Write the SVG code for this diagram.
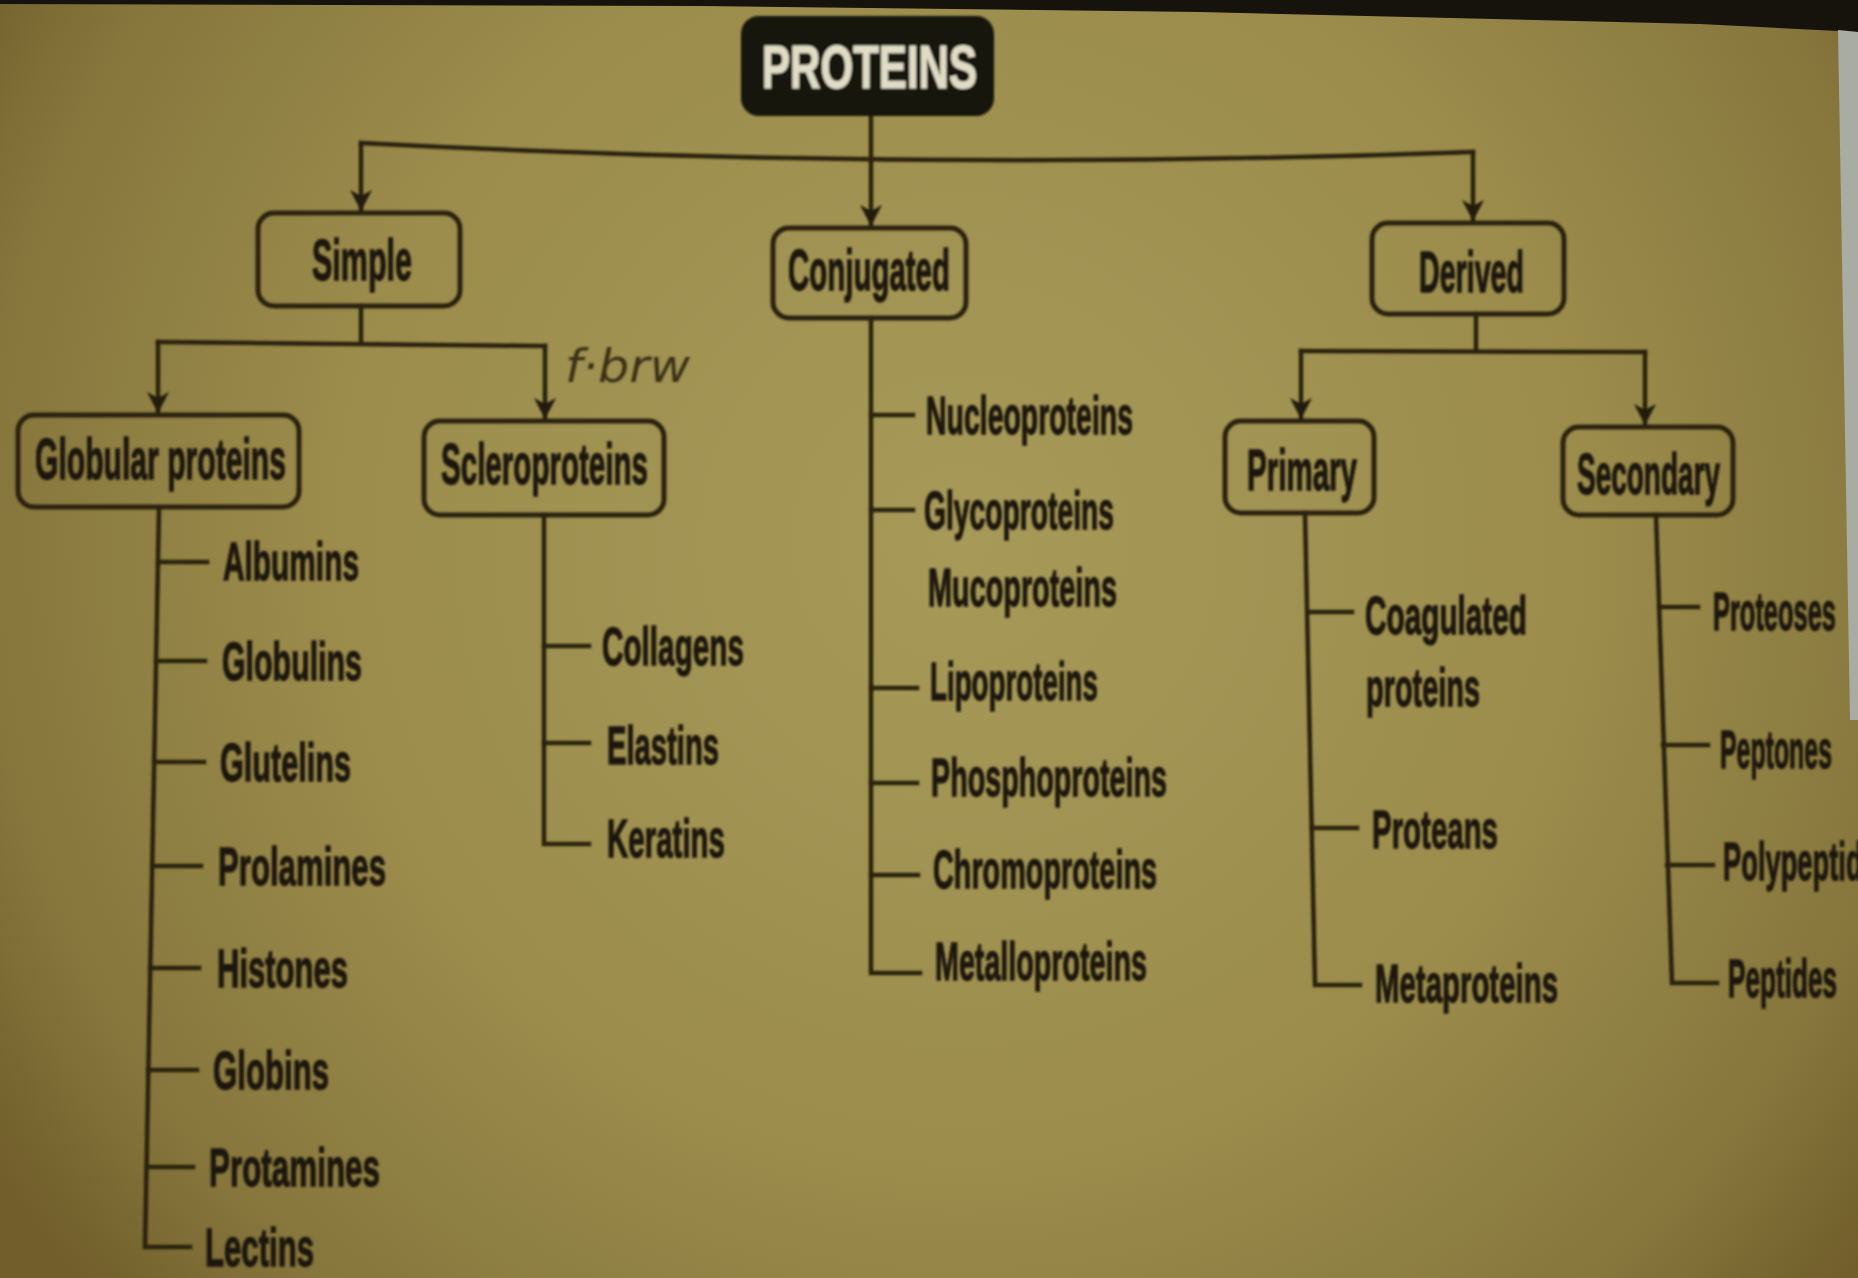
<svg xmlns="http://www.w3.org/2000/svg" width="1858" height="1278" viewBox="0 0 1858 1278">
<defs>
<radialGradient id="bg" cx="960" cy="540" r="1150" gradientUnits="userSpaceOnUse">
<stop offset="0" stop-color="#a79a59"/>
<stop offset="0.55" stop-color="#9b8c4c"/>
<stop offset="0.85" stop-color="#86763c"/>
<stop offset="1" stop-color="#715e2b"/>
</radialGradient>
<filter id="soft" x="-5%" y="-5%" width="110%" height="110%">
<feGaussianBlur stdDeviation="1.1"/>
</filter>
<marker id="ah" viewBox="0 -12 22 24" refX="21" refY="0" markerWidth="22" markerHeight="24" markerUnits="userSpaceOnUse" orient="auto">
<path d="M0,-11 L21,0 L0,11 L6,0 z" fill="#241b0b"/>
</marker>
<style>
.ln{fill:none;stroke:#2a2010;stroke-width:4.5;stroke-linecap:square;stroke-linejoin:miter}
.box{fill:none;stroke:#2a2010;stroke-width:5}
.t{font-family:"Liberation Sans",Arial,sans-serif;font-weight:bold;fill:#1e170a;stroke:#1e170a;stroke-width:1.3}
.bt{font-size:58px}
.lt{font-size:54px}
.hw{font-family:"DejaVu Sans",sans-serif;font-style:italic;font-weight:normal;fill:#3b3116;font-size:46px}
</style>
</defs>
<rect x="0" y="0" width="1858" height="1278" fill="url(#bg)"/>
<polygon points="0,0 1858,0 1858,32 1700,24 1200,12 700,6 0,4" fill="#16130c"/>
<polygon points="1838,30 1858,32 1858,720 1850,720" fill="#a9aca2"/>
<g filter="url(#soft)">
<g id="connectors">
<path class="ln" d="M871,116 V226" marker-end="url(#ah)"/>
<path class="ln" d="M361,143 Q917,172 1473,152"/>
<path class="ln" d="M361,143 V211" marker-end="url(#ah)"/>
<path class="ln" d="M1473,152 V221" marker-end="url(#ah)"/>
<path class="ln" d="M361,306 V343"/>
<path class="ln" d="M158,342 L545,346"/>
<path class="ln" d="M158,342 V413" marker-end="url(#ah)"/>
<path class="ln" d="M545,346 V419" marker-end="url(#ah)"/>
<path class="ln" d="M1476,314 V351"/>
<path class="ln" d="M1301,351 L1645,352"/>
<path class="ln" d="M1301,351 V419" marker-end="url(#ah)"/>
<path class="ln" d="M1645,352 V425" marker-end="url(#ah)"/>
<path class="ln" d="M159,507 L145,1247 L190,1247"/>
<path class="ln" d="M158,562 H207 M156,661 H205 M154,762 H204 M152,866 H201 M150,968 H199 M148,1070 H197 M147,1167 H193"/>
<path class="ln" d="M544,515 V844 H589"/>
<path class="ln" d="M544,646 H589 M544,743 H589"/>
<path class="ln" d="M871,318 V973 H920"/>
<path class="ln" d="M871,415 H913 M871,510 H913 M871,688 H917 M871,783 H917 M871,875 H918"/>
<path class="ln" d="M1305,513 L1315,985 H1360"/>
<path class="ln" d="M1308,612 H1352 M1312,828 H1357"/>
<path class="ln" d="M1656,515 L1672,983 H1717"/>
<path class="ln" d="M1659,607 H1698 M1663,745 H1708 M1667,865 H1713"/>
</g>
<g id="proteins">
<rect x="741" y="16" width="253" height="100" rx="18" fill="#14130f"/>
<text x="762" y="88" class="t" style="font-size:62px;fill:#e0dcc6;stroke:#e0dcc6;stroke-width:1" textLength="215" lengthAdjust="spacingAndGlyphs">PROTEINS</text>
</g>
<g id="simple">
<rect class="box" x="258" y="213" width="202" height="93" rx="16"/>
<text x="312" y="280" class="t bt" textLength="100" lengthAdjust="spacingAndGlyphs">Simple</text>
</g>
<g id="conjugated">
<rect class="box" x="773" y="228" width="193" height="90" rx="16"/>
<text x="788" y="290" class="t bt" textLength="162" lengthAdjust="spacingAndGlyphs">Conjugated</text>
</g>
<g id="derived">
<rect class="box" x="1372" y="223" width="192" height="91" rx="16"/>
<text x="1419" y="292" class="t bt" textLength="105" lengthAdjust="spacingAndGlyphs">Derived</text>
</g>
<g id="globular">
<rect class="box" x="18" y="415" width="281" height="92" rx="16"/>
<text x="35" y="479" class="t bt" textLength="251" lengthAdjust="spacingAndGlyphs">Globular proteins</text>
</g>
<g id="sclero">
<rect class="box" x="424" y="421" width="240" height="94" rx="16"/>
<text x="441" y="484" class="t bt" textLength="207" lengthAdjust="spacingAndGlyphs">Scleroproteins</text>
</g>
<g id="annotation">
<text x="565" y="382" class="hw" textLength="125" lengthAdjust="spacingAndGlyphs">f·brw</text>
</g>
<g id="primary">
<rect class="box" x="1225" y="421" width="149" height="92" rx="16"/>
<text x="1247" y="490" class="t bt" textLength="110" lengthAdjust="spacingAndGlyphs">Primary</text>
</g>
<g id="secondary">
<rect class="box" x="1563" y="427" width="170" height="88" rx="16"/>
<text x="1577" y="494" class="t bt" textLength="143" lengthAdjust="spacingAndGlyphs">Secondary</text>
</g>
<g id="albumins"><text x="223" y="580" class="t lt" textLength="136" lengthAdjust="spacingAndGlyphs">Albumins</text></g>
<g id="globulins"><text x="222" y="680" class="t lt" textLength="140" lengthAdjust="spacingAndGlyphs">Globulins</text></g>
<g id="glutelins"><text x="220" y="781" class="t lt" textLength="131" lengthAdjust="spacingAndGlyphs">Glutelins</text></g>
<g id="prolamines"><text x="218" y="885" class="t lt" textLength="168" lengthAdjust="spacingAndGlyphs">Prolamines</text></g>
<g id="histones"><text x="217" y="987" class="t lt" textLength="131" lengthAdjust="spacingAndGlyphs">Histones</text></g>
<g id="globins"><text x="213" y="1089" class="t lt" textLength="116" lengthAdjust="spacingAndGlyphs">Globins</text></g>
<g id="protamines"><text x="209" y="1186" class="t lt" textLength="171" lengthAdjust="spacingAndGlyphs">Protamines</text></g>
<g id="lectins"><text x="205" y="1266" class="t lt" textLength="109" lengthAdjust="spacingAndGlyphs">Lectins</text></g>
<g id="collagens"><text x="602" y="665" class="t lt" textLength="142" lengthAdjust="spacingAndGlyphs">Collagens</text></g>
<g id="elastins"><text x="607" y="764" class="t lt" textLength="112" lengthAdjust="spacingAndGlyphs">Elastins</text></g>
<g id="keratins"><text x="607" y="857" class="t lt" textLength="118" lengthAdjust="spacingAndGlyphs">Keratins</text></g>
<g id="nucleoproteins"><text x="926" y="434" class="t lt" textLength="207" lengthAdjust="spacingAndGlyphs">Nucleoproteins</text></g>
<g id="glycoproteins"><text x="924" y="529" class="t lt" textLength="190" lengthAdjust="spacingAndGlyphs">Glycoproteins</text></g>
<g id="mucoproteins"><text x="928" y="606" class="t lt" textLength="189" lengthAdjust="spacingAndGlyphs">Mucoproteins</text></g>
<g id="lipoproteins"><text x="930" y="700" class="t lt" textLength="168" lengthAdjust="spacingAndGlyphs">Lipoproteins</text></g>
<g id="phosphoproteins"><text x="931" y="796" class="t lt" textLength="236" lengthAdjust="spacingAndGlyphs">Phosphoproteins</text></g>
<g id="chromoproteins"><text x="933" y="888" class="t lt" textLength="224" lengthAdjust="spacingAndGlyphs">Chromoproteins</text></g>
<g id="metalloproteins"><text x="935" y="980" class="t lt" textLength="212" lengthAdjust="spacingAndGlyphs">Metalloproteins</text></g>
<g id="coagulated"><text x="1365" y="634" class="t lt" textLength="162" lengthAdjust="spacingAndGlyphs">Coagulated</text><text x="1366" y="706" class="t lt" textLength="114" lengthAdjust="spacingAndGlyphs">proteins</text></g>
<g id="proteans"><text x="1372" y="848" class="t lt" textLength="126" lengthAdjust="spacingAndGlyphs">Proteans</text></g>
<g id="metaproteins"><text x="1375" y="1002" class="t lt" textLength="183" lengthAdjust="spacingAndGlyphs">Metaproteins</text></g>
<g id="proteoses"><text x="1713" y="630" class="t lt" textLength="123" lengthAdjust="spacingAndGlyphs">Proteoses</text></g>
<g id="peptones"><text x="1720" y="768" class="t lt" textLength="112" lengthAdjust="spacingAndGlyphs">Peptones</text></g>
<g id="polypeptides"><text x="1723" y="880" class="t lt" textLength="170" lengthAdjust="spacingAndGlyphs">Polypeptides</text></g>
<g id="peptides"><text x="1728" y="997" class="t lt" textLength="109" lengthAdjust="spacingAndGlyphs">Peptides</text></g>
</g>
</svg>
